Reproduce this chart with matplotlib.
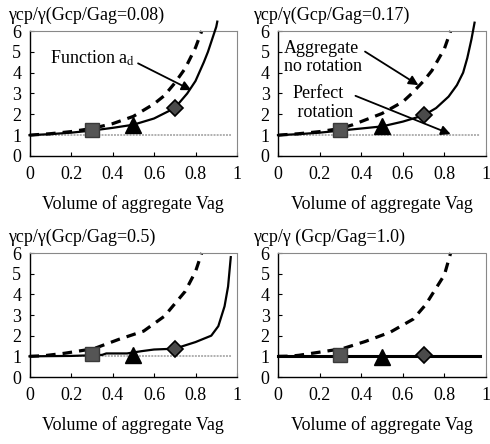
import matplotlib
matplotlib.use("Agg")
import matplotlib.pyplot as plt

plt.rcParams['font.family'] = ['Liberation Serif', 'DejaVu Serif']
plt.rcParams['mathtext.fontset'] = 'stix'

# ---------------- data ----------------
titles = ["γcp/γ(Gcp/Gag=0.08)", "γcp/γ(Gcp/Gag=0.17)",
          "γcp/γ(Gcp/Gag=0.5)", "γcp/γ (Gcp/Gag=1.0)"]
xlabel = "Volume of aggregate Vag"
xticks = [0, 0.2, 0.4, 0.6, 0.8, 1]
xticklabels = ["0", "0.2", "0.4", "0.6", "0.8", "1"]
yticks = [0, 1, 2, 3, 4, 5, 6]

# solid curves (Function a_d)
solid_x1 = [0, 0.1, 0.2, 0.3, 0.4, 0.5, 0.6, 0.7, 0.76, 0.8, 0.84, 0.86, 0.88, 0.9, 0.905]
solid_y1 = [1.0, 1.05, 1.12, 1.22, 1.35, 1.5, 1.8, 2.3, 3.0, 3.6, 4.5, 5.0, 5.6, 6.2, 6.45]
solid_x2 = [0, 0.1, 0.2, 0.3, 0.4, 0.5, 0.6, 0.7, 0.76, 0.82, 0.86, 0.89, 0.91, 0.93, 0.945]
solid_y2 = [1.0, 1.05, 1.12, 1.22, 1.32, 1.42, 1.65, 1.95, 2.3, 2.85, 3.4, 4.0, 4.7, 5.6, 6.4]
solid_x3 = [0, 0.2, 0.3, 0.35, 0.37, 0.47, 0.54, 0.6, 0.7, 0.8, 0.876, 0.91, 0.94, 0.957, 0.97]
solid_y3 = [1.0, 1.02, 1.05, 1.07, 1.14, 1.14, 1.25, 1.33, 1.37, 1.69, 2.0, 2.46, 3.42, 4.38, 5.8]
solid_x4 = [0, 0.97]
solid_y4 = [1.0, 1.0]

# dashed curves (aggregate, no rotation)
dash_x1 = [0, 0.1, 0.2, 0.3, 0.4, 0.5, 0.6, 0.65, 0.7, 0.75, 0.8, 0.83]
dash_y1 = [1.0, 1.07, 1.17, 1.32, 1.55, 1.9, 2.5, 2.9, 3.5, 4.2, 5.2, 6.0]
dash_x2 = [0, 0.1, 0.2, 0.3, 0.36, 0.5, 0.6, 0.643, 0.7, 0.74, 0.8, 0.83]
dash_y2 = [1.0, 1.07, 1.17, 1.32, 1.5, 2.04, 2.6, 3.0, 3.6, 4.1, 5.15, 6.0]
dash_x3 = [0, 0.07, 0.17, 0.31, 0.43, 0.55, 0.65, 0.75, 0.8, 0.83]
dash_y3 = [1.0, 1.03, 1.15, 1.37, 1.82, 2.22, 2.94, 4.14, 5.1, 6.0]
dash_x4 = [0, 0.06, 0.1, 0.31, 0.42, 0.54, 0.65, 0.71, 0.75, 0.8, 0.83]
dash_y4 = [1.0, 1.01, 1.05, 1.37, 1.72, 2.17, 2.8, 3.5, 4.14, 4.94, 6.0]

# perfect rotation reference line
ref_x = [0, 0.97]
ref_y = [1.0, 1.0]

# markers: square, triangle, diamond
mark_x = [0.3, 0.5, 0.7]
mark_y1 = [1.25, 1.5, 2.3]
mark_y2 = [1.25, 1.45, 1.95]
mark_y3 = [1.12, 1.08, 1.35]
mark_y4 = [1.08, 0.95, 1.05]

solids = [(solid_x1, solid_y1), (solid_x2, solid_y2), (solid_x3, solid_y3), (solid_x4, solid_y4)]
dashes = [(dash_x1, dash_y1), (dash_x2, dash_y2), (dash_x3, dash_y3), (dash_x4, dash_y4)]
marks = [mark_y1, mark_y2, mark_y3, mark_y4]

W, H = 490, 444
fig = plt.figure(figsize=(W / 100, H / 100), dpi=100)

# pixel boxes: left, right, top, bottom
boxes = [(29.5, 237, 31, 156), (278, 486, 31, 156),
         (29.5, 237, 253, 377), (278, 486, 253, 377)]
title_pos = [(8, 15), (253, 15), (8, 237), (253, 237)]

FS = 13
for i in range(4):
    l, r, t, b = boxes[i]
    ax = fig.add_axes([l / W, 1 - b / H, (r - l) / W, (b - t) / H])
    ax.set_xlim(0, 1)
    ax.set_ylim(0, 6)
    ax.plot(ref_x, ref_y, color='#b0b0b0', lw=1.4, ls=(0, (1, 0.6)), zorder=1)
    dx, dy = dashes[i]
    ax.plot(dx, dy, color='black', lw=2.3, ls=(0, (3, 2.2)), zorder=2, clip_on=False)
    sx, sy = solids[i]
    lw = 2.2 if i == 3 else 1.6
    ax.plot(sx, sy, color='black', lw=lw, zorder=3, clip_on=False)
    my = marks[i]
    ax.plot([mark_x[0]], [my[0]], marker='s', ms=10, color='#555555', mec='#3a3a3a', zorder=4, ls='none')
    ax.plot([mark_x[1]], [my[1]], marker='^', ms=11.5, color='black', zorder=4, ls='none')
    ax.plot([mark_x[2]], [my[2]], marker='D', ms=8.5, color='#4a4a4a', mec='black', mew=1.2, zorder=4, ls='none')

    ax.set_xticks(xticks)
    ax.set_xticklabels(xticklabels, fontsize=FS)
    ax.set_yticks(yticks)
    ax.set_yticklabels([str(v) for v in yticks], fontsize=FS)
    ax.tick_params(axis='x', direction='in', length=3, pad=7, width=0.8)
    ax.tick_params(axis='y', direction='in', length=3, pad=6, width=0.8)
    for s in ['left', 'bottom']:
        ax.spines[s].set_color('black')
        ax.spines[s].set_linewidth(1.0)
    for s in ['top', 'right']:
        ax.spines[s].set_color('#888888')
        ax.spines[s].set_linewidth(0.8)
        ax.spines[s].set_linestyle((0, (1, 1)))
    ax.set_xlabel(xlabel, fontsize=FS, labelpad=9)
    tx, ty = title_pos[i]
    fig.text(tx / W, 1 - ty / H, titles[i], fontsize=FS, ha='left', va='center')

    if i == 0:
        ax.annotate("Function a$_{\\rm d}$", xy=(0.78, 3.16), xytext=(0.1, 4.7),
                    fontsize=FS, va='center', ha='left',
                    arrowprops=dict(arrowstyle='-|>', color='black', lw=1.3,
                                    mutation_scale=14, shrinkA=0, shrinkB=0,
                                    relpos=(1.0, 0.3)))
    if i == 1:
        ax.annotate("Aggregate\nno rotation", xy=(0.675, 3.4), xytext=(0.03, 4.72),
                    fontsize=FS, va='center', ha='left', linespacing=1.1,
                    arrowprops=dict(arrowstyle='-|>', color='black', lw=1.3,
                                    mutation_scale=14, shrinkA=0, shrinkB=0,
                                    relpos=(0.98, 0.75)))
        ax.annotate("Perfect\n rotation", xy=(0.83, 1.05), xytext=(0.07, 2.55),
                    fontsize=FS, va='center', ha='left', linespacing=1.1,
                    arrowprops=dict(arrowstyle='-|>', color='black', lw=1.3,
                                    mutation_scale=14, shrinkA=0, shrinkB=0,
                                    relpos=(0.9, 0.8)))

fig.savefig("out.png", dpi=100)
